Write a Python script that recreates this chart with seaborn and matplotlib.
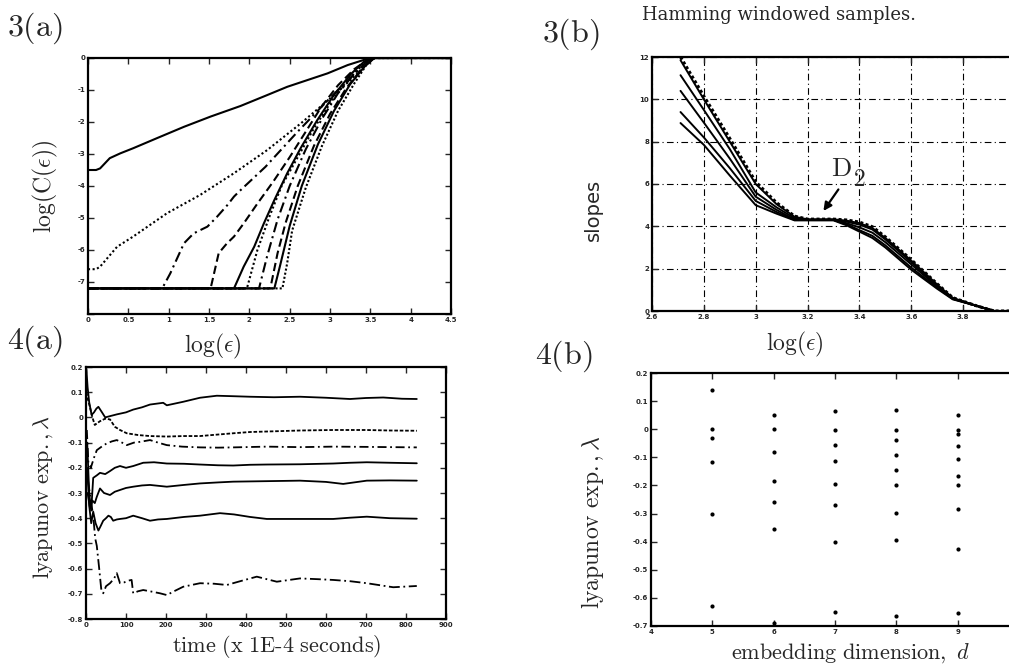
import matplotlib
matplotlib.use('Agg')
import matplotlib.pyplot as plt
import numpy as np
import pandas as pd
import seaborn as sns

# ---- data ----

# 3(a): log(C(eps)) curves
c1_x = [0, 0.1, 0.15, 0.27, 0.4, 0.56, 0.85, 1.19, 1.52, 1.89, 2.22, 2.47, 2.72, 2.97, 3.22, 3.42, 3.55, 4.5]
c1_y = [-3.5, -3.5, -3.45, -3.13, -2.98, -2.82, -2.51, -2.15, -1.83, -1.5, -1.16, -0.9, -0.69, -0.48, -0.22, -0.06, 0, 0]
c2_x = [0, 0.1, 0.15, 0.36, 0.56, 0.98, 1.39, 1.81, 2.22, 2.64, 3.05, 3.3, 3.47, 3.55, 4.5]
c2_y = [-6.6, -6.6, -6.52, -5.9, -5.58, -4.85, -4.28, -3.6, -2.88, -2.04, -1.16, -0.58, -0.17, 0, 0]
c3_x = [0, 0.92, 1.02, 1.19, 1.31, 1.48, 1.6, 1.73, 1.81, 1.87, 2.2, 2.6, 3.0, 3.3, 3.55, 4.5]
c3_y = [-7.2, -7.2, -6.73, -5.79, -5.48, -5.27, -4.96, -4.59, -4.33, -4.18, -3.4, -2.3, -1.25, -0.5, 0, 0]
c4_x = [0, 1.52, 1.62, 1.72, 1.81, 1.93, 2.1, 2.3, 2.5, 2.7, 2.9, 3.1, 3.3, 3.45, 3.55, 4.5]
c4_y = [-7.2, -7.2, -6.1, -5.8, -5.58, -5.17, -4.55, -3.85, -3.1, -2.3, -1.5, -0.85, -0.35, -0.08, 0, 0]
c5_x = [0, 1.81, 1.93, 2.06, 2.18, 2.31, 2.47, 2.64, 2.84, 3.05, 3.26, 3.42, 3.55, 4.5]
c5_y = [-7.2, -7.2, -6.52, -5.9, -5.17, -4.44, -3.6, -2.8, -1.95, -1.15, -0.5, -0.12, 0, 0]
c6_x = [0, 1.97, 2.1, 2.25, 2.4, 2.6, 2.8, 3.0, 3.2, 3.4, 3.55, 4.5]
c6_y = [-7.2, -7.2, -6.0, -4.95, -4.0, -3.1, -2.2, -1.42, -0.75, -0.22, 0, 0]
c7_x = [0, 2.12, 2.22, 2.35, 2.5, 2.7, 2.9, 3.1, 3.3, 3.45, 3.55, 4.5]
c7_y = [-7.2, -7.2, -6.2, -5.05, -4.0, -2.85, -1.9, -1.1, -0.5, -0.12, 0, 0]
c8_x = [0, 2.26, 2.35, 2.45, 2.6, 2.8, 3.0, 3.2, 3.4, 3.55, 4.5]
c8_y = [-7.2, -7.2, -6.1, -5.15, -4.0, -2.75, -1.75, -0.95, -0.32, 0, 0]
c9_x = [0, 2.31, 2.38, 2.5, 2.65, 2.85, 3.05, 3.25, 3.45, 3.55, 4.5]
c9_y = [-7.2, -7.2, -6.5, -5.25, -4.0, -2.7, -1.65, -0.82, -0.2, 0, 0]
c10_x = [0, 2.41, 2.47, 2.53, 2.7, 2.9, 3.1, 3.3, 3.45, 3.55, 4.5]
c10_y = [-7.2, -7.2, -6.4, -5.4, -4.05, -2.75, -1.65, -0.8, -0.22, 0, 0]

# 3(b): slopes vs log(eps)
eps_b = [2.71, 2.8, 2.9, 3.0, 3.08, 3.15, 3.2, 3.3, 3.35, 3.4, 3.45, 3.5, 3.6, 3.7, 3.76, 3.85, 3.92, 4.0]
slope_a = [8.88, 7.85, 6.4, 5.0, 4.6, 4.28, 4.28, 4.28, 4.05, 3.75, 3.45, 3.0, 1.95, 1.05, 0.55, 0.25, 0.0, 0.0]
slope_b = [9.4, 8.2, 6.75, 5.2, 4.68, 4.3, 4.3, 4.3, 4.1, 3.82, 3.55, 3.1, 2.05, 1.1, 0.57, 0.25, 0.0, 0.0]
slope_c = [10.4, 8.9, 7.2, 5.4, 4.78, 4.32, 4.3, 4.3, 4.15, 3.95, 3.7, 3.25, 2.2, 1.15, 0.58, 0.25, 0.0, 0.0]
slope_d = [11.14, 9.5, 7.65, 5.6, 4.9, 4.38, 4.32, 4.32, 4.22, 4.08, 3.85, 3.38, 2.3, 1.2, 0.6, 0.25, 0.0, 0.0]
slope_e = [11.85, 10.0, 8.0, 6.0, 5.05, 4.45, 4.33, 4.33, 4.27, 4.15, 3.92, 3.45, 2.38, 1.25, 0.62, 0.25, 0.0, 0.0]
slope_f = [12.0, 10.15, 8.15, 6.1, 5.12, 4.48, 4.34, 4.34, 4.3, 4.2, 3.98, 3.5, 2.42, 1.28, 0.63, 0.25, 0.0, 0.0]

# 4(a): lyapunov exponents vs time
l1_t = [1, 4, 8, 14, 20, 26, 31, 40, 48, 60, 77, 100, 118, 140, 160, 193, 202, 243, 285, 327, 370, 410, 470, 535, 600, 660, 700, 743, 790, 827]
l1_v = [0.19, 0.12, 0.06, 0.01, 0.02, 0.035, 0.042, 0.02, 0.0, 0.005, 0.012, 0.02, 0.031, 0.04, 0.051, 0.058, 0.048, 0.062, 0.078, 0.086, 0.084, 0.082, 0.08, 0.082, 0.078, 0.073, 0.077, 0.079, 0.074, 0.073]
l2_t = [1, 5, 10, 16, 22, 35, 48, 60, 72, 85, 102, 130, 160, 202, 245, 285, 330, 368, 410, 452, 535, 618, 700, 760, 827]
l2_v = [0.1, 0.07, 0.04, 0.0, -0.03, -0.015, -0.005, -0.008, -0.037, -0.05, -0.063, -0.07, -0.074, -0.076, -0.074, -0.074, -0.068, -0.063, -0.058, -0.056, -0.052, -0.05, -0.05, -0.052, -0.053]
l3_t = [2, 6, 12, 20, 27, 40, 52, 65, 77, 90, 102, 120, 135, 160, 180, 202, 240, 285, 330, 368, 452, 535, 618, 700, 827]
l3_v = [-0.05, -0.18, -0.2, -0.16, -0.13, -0.115, -0.103, -0.095, -0.09, -0.1, -0.11, -0.1, -0.097, -0.09, -0.1, -0.11, -0.116, -0.119, -0.12, -0.119, -0.116, -0.118, -0.116, -0.117, -0.119]
l4_t = [3, 8, 13, 18, 27, 35, 48, 60, 72, 85, 100, 118, 143, 170, 202, 245, 285, 330, 368, 410, 452, 535, 618, 660, 702, 760, 827]
l4_v = [-0.1, -0.3, -0.37, -0.24, -0.23, -0.22, -0.225, -0.213, -0.2, -0.193, -0.2, -0.193, -0.18, -0.178, -0.183, -0.184, -0.187, -0.19, -0.191, -0.188, -0.187, -0.186, -0.183, -0.18, -0.178, -0.18, -0.182]
l5_t = [4, 10, 16, 22, 27, 35, 45, 60, 72, 85, 100, 118, 140, 160, 202, 245, 285, 330, 368, 452, 535, 600, 643, 702, 760, 827]
l5_v = [-0.3, -0.36, -0.33, -0.34, -0.315, -0.282, -0.3, -0.308, -0.295, -0.288, -0.28, -0.275, -0.27, -0.268, -0.275, -0.268, -0.262, -0.258, -0.255, -0.253, -0.251, -0.256, -0.264, -0.251, -0.25, -0.251]
l6_t = [3, 8, 13, 18, 24, 31, 37, 43, 50, 56, 62, 68, 77, 85, 100, 118, 140, 160, 180, 202, 245, 285, 335, 370, 410, 452, 535, 618, 660, 702, 760, 827]
l6_v = [-0.2, -0.35, -0.42, -0.374, -0.42, -0.449, -0.43, -0.41, -0.4, -0.39, -0.395, -0.41, -0.405, -0.403, -0.4, -0.39, -0.4, -0.41, -0.405, -0.403, -0.395, -0.39, -0.38, -0.385, -0.395, -0.403, -0.403, -0.403, -0.398, -0.394, -0.4, -0.402]
l7_t = [5, 12, 18, 23, 27, 33, 38, 43, 50, 60, 70, 77, 85, 95, 105, 114, 118, 130, 143, 160, 185, 202, 220, 243, 285, 320, 352, 390, 427, 477, 535, 580, 618, 660, 702, 768, 827]
l7_v = [-0.25, -0.33, -0.39, -0.48, -0.51, -0.6, -0.68, -0.698, -0.67, -0.658, -0.64, -0.618, -0.658, -0.655, -0.648, -0.645, -0.698, -0.69, -0.685, -0.69, -0.698, -0.705, -0.69, -0.672, -0.658, -0.66, -0.665, -0.648, -0.632, -0.652, -0.639, -0.642, -0.645, -0.65, -0.658, -0.674, -0.669]

# 4(b): exponents per embedding dimension
dims = [5, 6, 7, 8, 9]
exp_d5 = [0.138, 0.0, -0.031, -0.117, -0.300, -0.630]
exp_d6 = [0.052, 0.0, -0.080, -0.183, -0.260, -0.354, -0.69]
exp_d7 = [0.064, -0.002, -0.056, -0.113, -0.194, -0.268, -0.400, -0.651]
exp_d8 = [0.068, -0.003, -0.037, -0.093, -0.145, -0.198, -0.297, -0.394, -0.666]
exp_d9 = [0.050, -0.001, -0.016, -0.061, -0.107, -0.168, -0.198, -0.284, -0.426, -0.655]

# ---- style ----
sns.set_style('ticks')
plt.rcParams['axes.unicode_minus'] = False
plt.rcParams['mathtext.fontset'] = 'cm'
plt.rcParams['font.family'] = ['DejaVu Sans']

W, H = 1009, 666
fig = plt.figure(figsize=(W / 100, H / 100), dpi=100)


def box(l, t, r, b):
    return [l / W, 1 - b / H, (r - l) / W, (b - t) / H]


def matlab_axes(ax):
    ax.tick_params(direction='in', top=True, right=True, length=4, width=1,
                   labelsize=5, pad=2)
    for lab in ax.get_xticklabels() + ax.get_yticklabels():
        lab.set_fontweight('bold')
    for s in ax.spines.values():
        s.set_linewidth(1.6)
        s.set_color('k')


LS = ['-', (0, (1, 1.2)), (0, (5, 2, 1, 2)), (0, (4, 2)), '-', (0, (1, 1.2)), (0, (5, 2, 1, 2)), (0, (4, 2)), '-', (0, (1, 1))]

# 3(a)
ax1 = fig.add_axes(box(88, 58, 451, 314))
curves_a = [(c1_x, c1_y), (c2_x, c2_y), (c3_x, c3_y), (c4_x, c4_y), (c5_x, c5_y),
            (c6_x, c6_y), (c7_x, c7_y), (c8_x, c8_y), (c9_x, c9_y), (c10_x, c10_y)]
for i, (cx, cy) in enumerate(curves_a):
    sns.lineplot(x=cx, y=cy, ax=ax1, color='k', lw=1.5, linestyle=LS[i], estimator=None, sort=False)
ax1.set_xlim(0, 4.5)
ax1.set_ylim(-8, 0)
ax1.set_xticks(np.arange(0, 4.51, 0.5))
ax1.set_xticklabels(['0', '0.5', '1', '1.5', '2', '2.5', '3', '3.5', '4', '4.5'])
ax1.set_yticks(range(-8, 1))
ax1.set_yticklabels(['', '-7', '-6', '-5', '-4', '-3', '-2', '-1', '0'])
matlab_axes(ax1)

# 3(b)
ax2 = fig.add_axes(box(652, 57, 1015, 311))
slopes = [slope_a, slope_b, slope_c, slope_d, slope_e]
for s in slopes:
    sns.lineplot(x=eps_b, y=s, ax=ax2, color='k', lw=1.4, estimator=None, sort=False)
sns.lineplot(x=eps_b, y=slope_f, ax=ax2, color='k', lw=2.2, linestyle=(0, (1, 0.8)), estimator=None, sort=False)
ax2.set_xlim(2.6, 4.0)
ax2.set_ylim(0, 12)
ax2.set_xticks([2.6, 2.8, 3.0, 3.2, 3.4, 3.6, 3.8, 4.0])
ax2.set_xticklabels(['2.6', '2.8', '3', '3.2', '3.4', '3.6', '3.8', ''])
ax2.set_yticks(range(0, 13, 2))
ax2.grid(True, color='k', linestyle=(0, (6, 3, 1, 3)), lw=0.8)
matlab_axes(ax2)
ax2.text(3.29, 6.7, r'$\mathrm{D}$', fontsize=19, va='center')
ax2.text(3.375, 6.25, r'$\mathrm{2}$', fontsize=17, va='center')
ax2.annotate('', xy=(3.255, 4.62), xytext=(3.325, 5.85),
             arrowprops=dict(arrowstyle='-|>', color='k', lw=1.6, mutation_scale=12))

# 4(a)
ax3 = fig.add_axes(box(86, 367, 446, 619))
lines_4a = [(l1_t, l1_v), (l2_t, l2_v), (l3_t, l3_v), (l4_t, l4_v), (l5_t, l5_v), (l6_t, l6_v), (l7_t, l7_v)]
LS4 = ['-', (0, (2, 1)), (0, (5, 2, 1, 2)), '-', '-', '-', (0, (6, 2, 1, 2))]
for i, (tt, vv) in enumerate(lines_4a):
    sns.lineplot(x=tt, y=vv, ax=ax3, color='k', lw=1.3, linestyle=LS4[i], estimator=None, sort=False)
ax3.set_xlim(0, 900)
ax3.set_ylim(-0.8, 0.2)
ax3.set_xticks(range(0, 901, 100))
ax3.set_yticks(np.round(np.arange(-0.8, 0.21, 0.1), 1))
ax3.set_yticklabels(['-0.8', '-0.7', '-0.6', '-0.5', '-0.4', '-0.3', '-0.2', '-0.1', '0', '0.1', '0.2'])
matlab_axes(ax3)

# 4(b)
ax4 = fig.add_axes(box(651, 373, 1019, 626))
pts = pd.DataFrame({
    'd': sum([[d] * len(e) for d, e in zip(dims, [exp_d5, exp_d6, exp_d7, exp_d8, exp_d9])], []),
    'lam': exp_d5 + exp_d6 + exp_d7 + exp_d8 + exp_d9,
})
sns.scatterplot(data=pts, x='d', y='lam', ax=ax4, color='k', s=9, edgecolor='k', linewidth=0)
ax4.set_xlim(4, 10)
ax4.set_ylim(-0.7, 0.2)
ax4.set_xticks(range(4, 11))
ax4.set_xticklabels(['4', '5', '6', '7', '8', '9', ''])
ax4.set_yticks(np.round(np.arange(-0.7, 0.21, 0.1), 1))
ax4.set_yticklabels(['-0.7', '-0.6', '-0.5', '-0.4', '-0.3', '-0.2', '-0.1', '0', '0.1', '0.2'])
ax4.set_xlabel('')
ax4.set_ylabel('')
matlab_axes(ax4)


def ftext(x, y, s, **kw):
    fig.text(x / W, 1 - y / H, s, **kw)


ftext(7, 28, r'$\mathrm{3(a)}$', fontsize=23, va='center', ha='left')
ftext(542, 34, r'$\mathrm{3(b)}$', fontsize=23, va='center', ha='left')
ftext(7, 341, r'$\mathrm{4(a)}$', fontsize=23, va='center', ha='left')
ftext(535, 356, r'$\mathrm{4(b)}$', fontsize=23, va='center', ha='left')
ftext(642, 15, 'Hamming windowed samples.', fontsize=13, family='DejaVu Serif', va='center', ha='left')

ftext(45, 186, r'$\mathrm{log(C(}\epsilon\mathrm{))}$', fontsize=17, rotation=90, va='center', ha='center')
ftext(213, 346, r'$\mathrm{log(}\epsilon\mathrm{)}$', fontsize=17, va='center', ha='center')
ftext(593, 210, 'slopes', fontsize=14, rotation=90, va='center', ha='center')
ftext(795, 344, r'$\mathrm{log(}\epsilon\mathrm{)}$', fontsize=17, va='center', ha='center')
ftext(43, 497, r'$\mathrm{lyapunov\ exp.,}\lambda$', fontsize=16, rotation=90, va='center', ha='center')
ftext(277, 647, r'$\mathrm{time\ (x\ 1E\text{-}4\ seconds)}$', fontsize=16, va='center', ha='center')
ftext(592, 522, r'$\mathrm{lyapunov\ exp.,}\lambda$', fontsize=17, rotation=90, va='center', ha='center')
ftext(851, 653, r'$\mathrm{embedding\ dimension,\ }d$', fontsize=16, va='center', ha='center')

fig.savefig('out.png', dpi=100, facecolor='white')
